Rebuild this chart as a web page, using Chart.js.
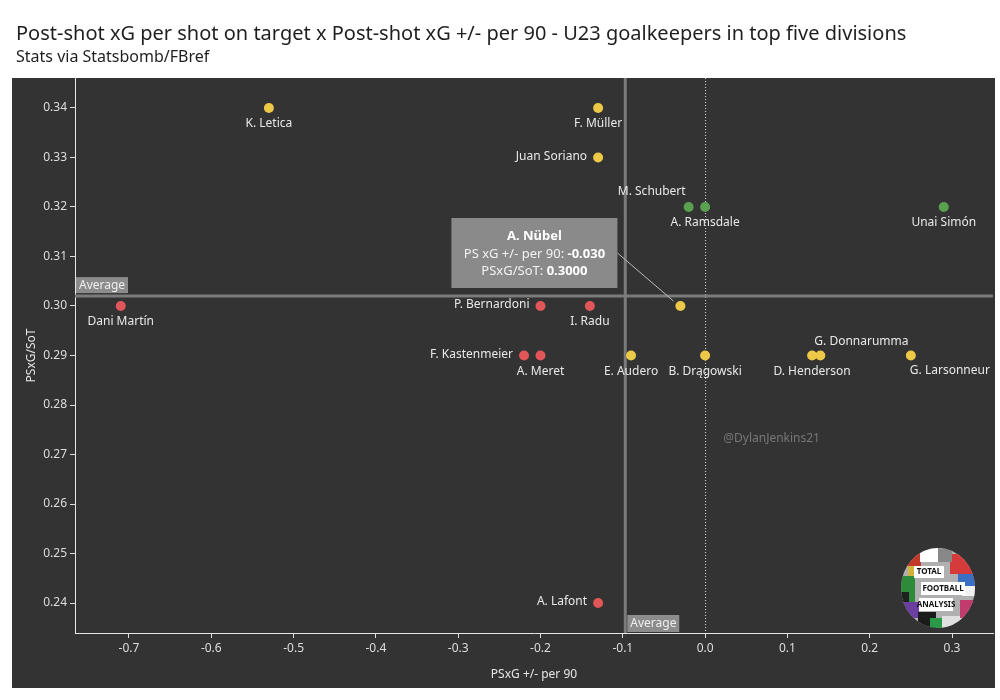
<!DOCTYPE html>
<html><head><meta charset="utf-8">
<script src="https://cdn.jsdelivr.net/npm/chart.js@4.4.1/dist/chart.umd.min.js"></script>
<style>html,body{margin:0;padding:0;background:#fff;}#wrap{width:1000px;height:700px;}</style>
</head><body><div id="wrap"><canvas id="c" width="1000" height="700"></canvas></div>
<script>
// ---- data ----
const players = ['K. Letica','F. Müller','Juan Soriano','M. Schubert','A. Ramsdale','Unai Simón','A. Nübel','Dani Martín','P. Bernardoni','I. Radu','F. Kastenmeier','A. Meret','E. Audero','B. Drągowski','D. Henderson','G. Donnarumma','G. Larsonneur','A. Lafont'];
const psxgPlusMinusPer90 = [-0.53,-0.13,-0.13,-0.02,0.00,0.29,-0.03,-0.71,-0.20,-0.14,-0.22,-0.20,-0.09,0.00,0.13,0.14,0.25,-0.13];
const psxgPerSoT = [0.34,0.34,0.33,0.32,0.32,0.32,0.30,0.30,0.30,0.30,0.29,0.29,0.29,0.29,0.29,0.29,0.29,0.24];
const groups = ['yellow','yellow','yellow','green','green','green','yellow','red','red','red','red','red','yellow','yellow','yellow','yellow','yellow','red'];
const labelPlacement = ['below','below','left','aboveLeft','below','below','none','below','left','below','left','below','below','below','below','aboveRight','belowRight','left'];
const highlighted = 'A. Nübel';
const avgPsxgPlusMinus = -0.097;
const avgPsxgPerSoT = 0.302;
const xTickValues = [-0.7,-0.6,-0.5,-0.4,-0.3,-0.2,-0.1,0.0,0.1,0.2,0.3];
const yTickValues = [0.24,0.25,0.26,0.27,0.28,0.29,0.30,0.31,0.32,0.33,0.34];
const titleText = 'Post-shot xG per shot on target x Post-shot xG +/- per 90 - U23 goalkeepers in top five divisions';
const subtitleText = 'Stats via Statsbomb/FBref';
const xAxisTitle = 'PSxG +/- per 90';
const yAxisTitle = 'PSxG/SoT';
const watermark = '@DylanJenkins21';

// ---- styling ----
const FONT = '"Noto Sans", "Open Sans", sans-serif';
const groupColors = {green:'#59A14F', yellow:'#EDC948', red:'#E15759'};
const groupOrder = ['green','yellow','red'];

const datasets = groupOrder.map(g => ({
  label: g,
  data: players.map((p,i)=>({x:psxgPlusMinusPer90[i], y:psxgPerSoT[i], name:p, place:labelPlacement[i], g:groups[i]})).filter(d=>d.g===g),
  backgroundColor: groupColors[g],
  borderWidth: 0,
  pointRadius: 5,
  pointHoverRadius: 5
}));

const bgPlugin = {
  id:'bg',
  beforeDraw(chart){
    const ctx = chart.ctx;
    ctx.save();
    ctx.fillStyle = '#fff';
    ctx.fillRect(0,0,chart.width,chart.height);
    ctx.fillStyle = '#333333';
    ctx.fillRect(12,78,983,610);
    ctx.fillStyle = '#1f1f1f';
    ctx.textBaseline = 'alphabetic';
    ctx.textAlign = 'left';
    ctx.font = '20px ' + FONT;
    ctx.fillText(titleText, 16, 40);
    ctx.font = '16px ' + FONT;
    ctx.fillText(subtitleText, 16, 62);
    ctx.restore();
  }
};

const refPlugin = {
  id:'refs',
  beforeDatasetsDraw(chart){
    const ctx = chart.ctx, a = chart.chartArea;
    const xs = chart.scales.x, ys = chart.scales.y;
    ctx.save();
    const x0 = xs.getPixelForValue(0);
    ctx.strokeStyle = '#dddddd'; ctx.lineWidth = 1; ctx.setLineDash([1,2]);
    ctx.beginPath(); ctx.moveTo(x0+0.5,a.top); ctx.lineTo(x0+0.5,a.bottom); ctx.stroke();
    ctx.setLineDash([]);
    const ax = xs.getPixelForValue(avgPsxgPlusMinus), ay = ys.getPixelForValue(avgPsxgPerSoT);
    ctx.strokeStyle = '#7b7b7b'; ctx.lineWidth = 3;
    ctx.beginPath(); ctx.moveTo(ax,a.top); ctx.lineTo(ax,a.bottom); ctx.stroke();
    ctx.beginPath(); ctx.moveTo(a.left,ay); ctx.lineTo(a.right,ay); ctx.stroke();
    ctx.font = '12px ' + FONT; ctx.textBaseline = 'middle'; ctx.textAlign = 'left';
    ctx.fillStyle = '#8c8c8c';
    ctx.fillRect(a.left+1, ay-19, 52, 16);
    ctx.fillRect(ax+2, a.bottom-18, 52, 17);
    ctx.fillStyle = '#eeeeee';
    ctx.fillText('Average', a.left+4, ay-11);
    ctx.fillText('Average', ax+5, a.bottom-9);
    ctx.fillStyle = '#777777'; ctx.textAlign='left';
    ctx.fillText(watermark, xs.getPixelForValue(0.022), ys.getPixelForValue(0.2733));
    ctx.restore();
  }
};

const labelPlugin = {
  id:'labels',
  afterDatasetsDraw(chart){
    const ctx = chart.ctx;
    ctx.save();
    ctx.font = '12px ' + FONT;
    ctx.fillStyle = '#e8e8e8';
    ctx.textBaseline = 'middle';
    chart.data.datasets.forEach((ds,di)=>{
      const meta = chart.getDatasetMeta(di);
      meta.data.forEach((el,i)=>{
        const d = ds.data[i];
        const {x,y} = el.getProps(['x','y'], true);
        switch(d.place){
          case 'below': ctx.textAlign='center'; ctx.fillText(d.name, x, y+16); break;
          case 'left': ctx.textAlign='right'; ctx.fillText(d.name, x-11, y-1); break;
          case 'aboveLeft': ctx.textAlign='right'; ctx.fillText(d.name, x-3, y-15); break;
          case 'aboveRight': ctx.textAlign='left'; ctx.fillText(d.name, x-6, y-14); break;
          case 'belowRight': ctx.textAlign='left'; ctx.fillText(d.name, x-1, y+15); break;
        }
        if (d.name === highlighted) {
          const bx = x-229, by = y-88, bw = 166, bh = 70;
          ctx.strokeStyle = '#bbbbbb'; ctx.lineWidth = 1;
          ctx.beginPath(); ctx.moveTo(bx+bw, by+35); ctx.lineTo(x-7, y-5); ctx.stroke();
          ctx.fillStyle = '#8a8a8a';
          ctx.fillRect(bx, by, bw, bh);
          ctx.fillStyle = '#ffffff';
          ctx.textAlign='center';
          ctx.font = 'bold 13px ' + FONT;
          ctx.fillText(d.name, bx+bw/2, by+18);
          const rows = [['PS xG +/- per 90: ', d.x.toFixed(3)], ['PSxG/SoT: ', d.y.toFixed(4)]];
          rows.forEach((r,k)=>{
            ctx.font = '13px ' + FONT;
            const w1 = ctx.measureText(r[0]).width;
            ctx.font = 'bold 13px ' + FONT;
            const w2 = ctx.measureText(r[1]).width;
            const sx = bx + bw/2 - (w1+w2)/2;
            ctx.textAlign='left';
            ctx.font = '13px ' + FONT; ctx.fillStyle = '#f2f2f2';
            ctx.fillText(r[0], sx, by+36+k*17);
            ctx.font = 'bold 13px ' + FONT; ctx.fillStyle = '#ffffff';
            ctx.fillText(r[1], sx+w1, by+36+k*17);
          });
          ctx.font = '12px ' + FONT; ctx.fillStyle = '#e8e8e8';
        }
      });
    });
    ctx.restore();
  }
};

const logoPlugin = {
  id:'logo',
  afterDraw(chart){
    const ctx = chart.ctx;
    const cx = 938, cy = 588, rx = 37, ry = 40;
    ctx.save();
    ctx.beginPath(); ctx.ellipse(cx, cy, rx, ry, 0, 0, Math.PI*2); ctx.clip();
    ctx.fillStyle = '#b0b0b0'; ctx.fillRect(cx-rx, cy-ry, rx*2, ry*2);
    const patches = [['#c0392b',-37,-40,20,18],['#2e8b3a',-37,-12,14,30],['#ffffff',-18,-40,22,14],['#6b3fa0',-37,14,18,16],['#d4b13a',-30,-22,10,10],['#1b1b1b',-20,24,18,16],['#d63b3b',12,-34,26,20],['#3a6fc4',20,-14,18,12],['#e0e0e0',4,28,20,14],['#c23b6e',22,12,16,18],['#2a9a49',-8,30,12,10],['#888',0,-40,14,14],['#f1f1f1',24,-2,14,10],['#202020',-37,4,8,10]];
    patches.forEach(p=>{ctx.fillStyle=p[0]; ctx.fillRect(cx+p[1], cy+p[2], p[3], p[4]);});
    ctx.fillStyle = '#ffffff';
    ctx.fillRect(cx-24, cy-22, 30, 12);
    ctx.fillRect(cx-17, cy-6, 44, 13);
    ctx.fillRect(cx-19, cy+10, 34, 13);
    ctx.fillStyle = '#111'; ctx.font = 'bold 8px ' + FONT; ctx.textBaseline='middle'; ctx.textAlign='center';
    ctx.fillText('TOTAL', cx-9, cy-16);
    ctx.fillText('FOOTBALL', cx+5, cy+1);
    ctx.fillText('ANALYSIS', cx-2, cy+17);
    ctx.restore();
  }
};

new Chart(document.getElementById('c'), {
  type:'scatter',
  data:{datasets},
  plugins:[bgPlugin, refPlugin, labelPlugin, logoPlugin],
  options:{
    responsive:false, animation:false, devicePixelRatio:1, events:[],
    layout:{padding:{top:78,left:12,right:7,bottom:12}},
    plugins:{legend:{display:false}, tooltip:{enabled:false}},
    scales:{
      x:{
        type:'linear', min:-0.7656, max:0.3498,
        afterBuildTicks(s){ s.ticks = xTickValues.map(v=>({value:v})); },
        afterFit(s){ s.height = 55; },
        ticks:{color:'#dddddd', font:{family:FONT,size:12}, padding:3, callback:v=>v.toFixed(1)},
        grid:{display:true, drawOnChartArea:false, drawTicks:true, tickLength:5, color:'#dddddd'},
        border:{display:true, color:'#e6e6e6', width:1},
        title:{display:true, text:xAxisTitle, color:'#e6e6e6', font:{family:FONT,size:12}, padding:{top:0,bottom:6}}
      },
      y:{
        type:'linear', min:0.23394, max:0.34606,
        afterBuildTicks(s){ s.ticks = yTickValues.map(v=>({value:v})); },
        afterFit(s){ s.width = 63; },
        ticks:{color:'#dddddd', font:{family:FONT,size:12}, padding:3, callback:v=>v.toFixed(2)},
        grid:{display:true, drawOnChartArea:false, drawTicks:true, tickLength:5, color:'#dddddd'},
        border:{display:true, color:'#e6e6e6', width:1},
        title:{display:true, text:yAxisTitle, color:'#e6e6e6', font:{family:FONT,size:12}, padding:{top:12,bottom:0}}
      }
    }
  }
});
</script></body></html>
